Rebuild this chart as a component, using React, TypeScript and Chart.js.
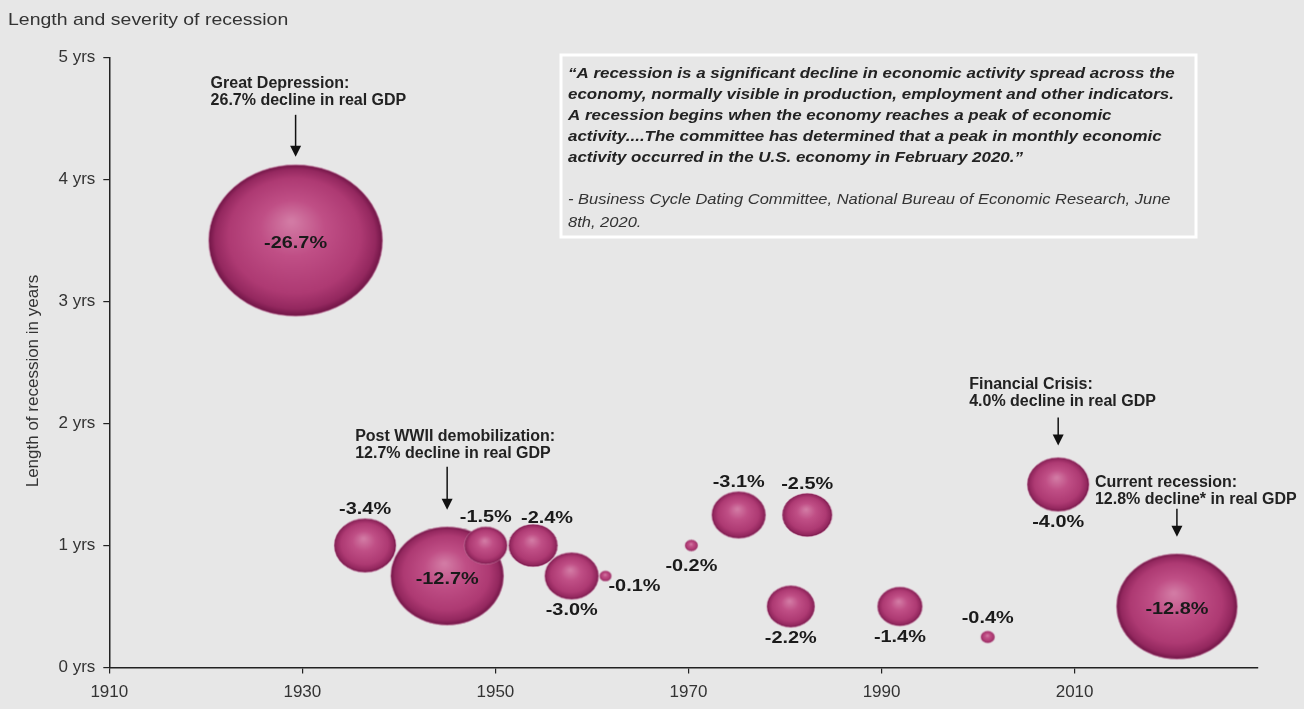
import React, { useEffect, useRef } from "react";
import { Chart, registerables } from "chart.js";

Chart.register(...registerables);

// ---------- data ----------
const recessionYear = [1929.3, 1936.5, 1945.0, 1949.0, 1953.9, 1957.9, 1961.4, 1970.3, 1975.2, 1982.3, 1980.6, 1991.9, 2001.0, 2008.3, 2020.6];
const recessionLength = [3.5, 1.0, 0.75, 1.0, 1.0, 0.75, 0.75, 1.0, 1.25, 1.25, 0.5, 0.5, 0.25, 1.5, 0.5];
const gdpDecline = [-26.7, -3.4, -12.7, -1.5, -2.4, -3.0, -0.1, -0.2, -3.1, -2.5, -2.2, -1.4, -0.4, -4.0, -12.8];
const bubbleSize = [87, 31, 56.5, 21.5, 24.5, 27, 6, 6.5, 27, 25, 24, 22.5, 7, 31, 60.5];
const labelPlacement = ["center", "above", "center", "above", "above-right", "below", "right", "below", "above", "above", "below", "below", "above", "below", "center"];

const yearTicks = [1910, 1930, 1950, 1970, 1990, 2010];
const yearTickLabels = ["1910", "1930", "1950", "1970", "1990", "2010"];
const lengthTicks = [0, 1, 2, 3, 4, 5];
const lengthTickLabels = ["0 yrs", "1 yrs", "2 yrs", "3 yrs", "4 yrs", "5 yrs"];

const chartTitle = "Length and severity of recession";
const yAxisTitle = "Length of recession in years";

const calloutBubble = [0, 2, 13, 14];
const calloutLines = [
  ["Great Depression:", "26.7% decline in real GDP"],
  ["Post WWII demobilization:", "12.7% decline in real GDP"],
  ["Financial Crisis:", "4.0% decline in real GDP"],
  ["Current recession:", "12.8% decline* in real GDP"],
];

const quoteLines = [
  "\u201CA recession is a significant decline in economic activity spread across the",
  "economy, normally visible in production, employment and other indicators.",
  "A recession begins when the economy reaches a peak of economic",
  "activity....The committee has determined that a peak in monthly economic",
  "activity occurred in the U.S. economy in February 2020.\u201D",
];
const quoteSource = [
  "- Business Cycle Dating Committee, National Bureau of Economic Research, June",
  "8th, 2020.",
];

// ---------- styling / layout ----------
const FAMILY = "'Liberation Sans', Arial, Helvetica, sans-serif";
const BG = "#e7e7e7";
const ASPECT = 0.87;
// callout layout: gap above bubble, arrow length, text x offset, gap text->arrow
const calloutLayout = [
  { gap: 8, len: 42, dx: -85, tgap: 10 },
  { gap: 17, len: 43, dx: -92, tgap: 9 },
  { gap: 12, len: 28, dx: -89, tgap: 12 },
  { gap: 17, len: 28, dx: -82, tgap: 5 },
];

function makeBubble(rx: number): HTMLCanvasElement {
  const ry = rx * ASPECT;
  const pad = 2;
  const c = document.createElement("canvas");
  c.width = Math.ceil(rx * 2 + pad * 2);
  c.height = Math.ceil(ry * 2 + pad * 2);
  const g = c.getContext("2d")!;
  g.translate(c.width / 2, c.height / 2);
  g.scale(1, ry / rx);
  const grad = g.createRadialGradient(-rx * 0.05, -rx * 0.25, rx * 0.03, 0, 0, rx);
  grad.addColorStop(0, "#d27aa4");
  grad.addColorStop(0.35, "#c04f86");
  grad.addColorStop(0.75, "#ae3a73");
  grad.addColorStop(0.92, "#94285f");
  grad.addColorStop(1, "#701546");
  g.beginPath();
  g.arc(0, 0, rx, 0, Math.PI * 2);
  g.fillStyle = grad;
  g.fill();
  g.lineWidth = 1;
  g.strokeStyle = "rgba(220,150,185,0.55)";
  g.stroke();
  return c;
}

function drawText(ctx: CanvasRenderingContext2D, text: string, x: number, y: number, font: string, color: string, sx: number, align: CanvasTextAlign = "left", baseline: CanvasTextBaseline = "alphabetic") {
  ctx.save();
  ctx.font = font;
  ctx.fillStyle = color;
  ctx.textAlign = align;
  ctx.textBaseline = baseline;
  ctx.translate(x, y);
  ctx.scale(sx, 1);
  ctx.fillText(text, 0, 0);
  ctx.restore();
}

const decorPlugin = {
  id: "decor",
  beforeDraw(chart: any) {
    const ctx = chart.ctx as CanvasRenderingContext2D;
    ctx.save();
    ctx.fillStyle = BG;
    ctx.fillRect(0, 0, chart.width, chart.height);
    ctx.restore();
    drawText(ctx, chartTitle, 8, 25, `17px ${FAMILY}`, "#333", 1.145);
    // y axis title
    ctx.save();
    ctx.translate(33, 381);
    ctx.rotate(-Math.PI / 2);
    ctx.font = `17px ${FAMILY}`;
    ctx.fillStyle = "#333";
    ctx.textAlign = "center";
    ctx.textBaseline = "middle";
    ctx.fillText(yAxisTitle, 0, 0);
    ctx.restore();
    // quote box
    ctx.save();
    ctx.strokeStyle = "#ffffff";
    ctx.lineWidth = 3;
    ctx.strokeRect(561, 55, 635, 182);
    ctx.restore();
    const qBase = [78, 99, 120, 141, 162];
    quoteLines.forEach((t, i) => drawText(ctx, t, 568, qBase[i], `italic bold 15px ${FAMILY}`, "#222", 1.13));
    const sBase = [204, 227];
    quoteSource.forEach((t, i) => drawText(ctx, t, 568, sBase[i], `italic 15px ${FAMILY}`, "#333", 1.1));
  },
  afterDatasetsDraw(chart: any) {
    const ctx = chart.ctx as CanvasRenderingContext2D;
    const xs = chart.scales.x;
    const ys = chart.scales.y;
    const labelFont = `bold 17px ${FAMILY}`;
    for (let i = 0; i < gdpDecline.length; i++) {
      const cx = xs.getPixelForValue(recessionYear[i]);
      const cy = ys.getPixelForValue(recessionLength[i]);
      const ry = Math.max(bubbleSize[i] * ASPECT, 10);
      const txt = `${gdpDecline[i].toFixed(1)}%`;
      const p = labelPlacement[i];
      if (p === "center") drawText(ctx, txt, cx, cy + 3, labelFont, "#1a1a1a", 1.17, "center", "middle");
      else if (p === "above") drawText(ctx, txt, cx, cy - ry - 9, labelFont, "#1a1a1a", 1.17, "center", "middle");
      else if (p === "above-right") drawText(ctx, txt, cx + 14, cy - ry - 6, labelFont, "#1a1a1a", 1.17, "center", "middle");
      else if (p === "below") drawText(ctx, txt, cx, cy + ry + 11, labelFont, "#1a1a1a", 1.17, "center", "middle");
      else if (p === "right") drawText(ctx, txt, cx + 3, cy + 10, labelFont, "#1a1a1a", 1.17, "left", "middle");
    }
    // callouts
    calloutBubble.forEach((bi, k) => {
      const L = calloutLayout[k];
      const ax = xs.getPixelForValue(recessionYear[bi]);
      const top = ys.getPixelForValue(recessionLength[bi]) - bubbleSize[bi] * ASPECT;
      const tip = top - L.gap;
      const start = tip - L.len;
      ctx.save();
      ctx.strokeStyle = "#111";
      ctx.fillStyle = "#111";
      ctx.lineWidth = 1.5;
      ctx.beginPath();
      ctx.moveTo(ax, start);
      ctx.lineTo(ax, tip - 9);
      ctx.stroke();
      ctx.beginPath();
      ctx.moveTo(ax - 5.5, tip - 11);
      ctx.lineTo(ax + 5.5, tip - 11);
      ctx.lineTo(ax, tip);
      ctx.closePath();
      ctx.fill();
      ctx.restore();
      const lines = calloutLines[k];
      const b2 = start - L.tgap;
      lines.forEach((t, j) => {
        const by = b2 - (lines.length - 1 - j) * 17;
        drawText(ctx, t, ax + L.dx, by, `bold 16px ${FAMILY}`, "#222", 1.0);
      });
    });
  },
};

export default function App() {
  const ref = useRef<HTMLCanvasElement | null>(null);
  useEffect(() => {
    if (!ref.current) return;
    const images = bubbleSize.map((r) => makeBubble(r));
    const points = recessionYear.map((x, i) => ({ x, y: recessionLength[i], r: bubbleSize[i] }));
    const chart = new Chart(ref.current, {
      type: "bubble",
      data: {
        datasets: [
          {
            label: "Recessions",
            data: points,
            pointStyle: ((c: any) => images[c.dataIndex]) as any,
            backgroundColor: "#b03f77",
            borderWidth: 0,
            clip: false,
          } as any,
        ],
      },
      options: {
        responsive: false,
        animation: false,
        events: [],
        layout: { autoPadding: false, padding: { top: 57.5, right: 46, bottom: 0, left: 0 } },
        plugins: { legend: { display: false }, tooltip: { enabled: false }, title: { display: false } },
        scales: {
          x: {
            type: "linear",
            min: 1910,
            max: 2029,
            afterBuildTicks: (s: any) => {
              s.ticks = yearTicks.map((v) => ({ value: v }));
            },
            afterFit: (s: any) => {
              s.height = 41.5;
            },
            ticks: {
              autoSkip: false,
              maxRotation: 0,
              padding: 9,
              color: "#333",
              font: { family: FAMILY, size: 17 },
              callback: (v: any) => yearTickLabels[yearTicks.indexOf(Number(v))] ?? "",
            },
            grid: { drawOnChartArea: false, drawTicks: true, tickLength: 6, color: "#222", lineWidth: 1.2 },
            border: { display: true, color: "#222", width: 1.5 },
          },
          y: {
            type: "linear",
            min: 0,
            max: 5,
            afterBuildTicks: (s: any) => {
              s.ticks = lengthTicks.map((v) => ({ value: v }));
            },
            afterFit: (s: any) => {
              s.width = 109.3;
            },
            ticks: {
              padding: 8,
              color: "#333",
              font: { family: FAMILY, size: 17 },
              callback: (v: any) => lengthTickLabels[lengthTicks.indexOf(Number(v))] ?? "",
            },
            grid: { drawOnChartArea: false, drawTicks: true, tickLength: 6, color: "#222", lineWidth: 1.2 },
            border: { display: true, color: "#222", width: 1.5 },
          },
        },
      },
      plugins: [decorPlugin],
    } as any);
    return () => chart.destroy();
  }, []);
  return (
    <div style={{ position: "fixed", left: 0, top: 0, width: 1304, height: 709, background: BG }}>
      <canvas ref={ref} width={1304} height={709} style={{ display: "block", width: 1304, height: 709 }} />
    </div>
  );
}
